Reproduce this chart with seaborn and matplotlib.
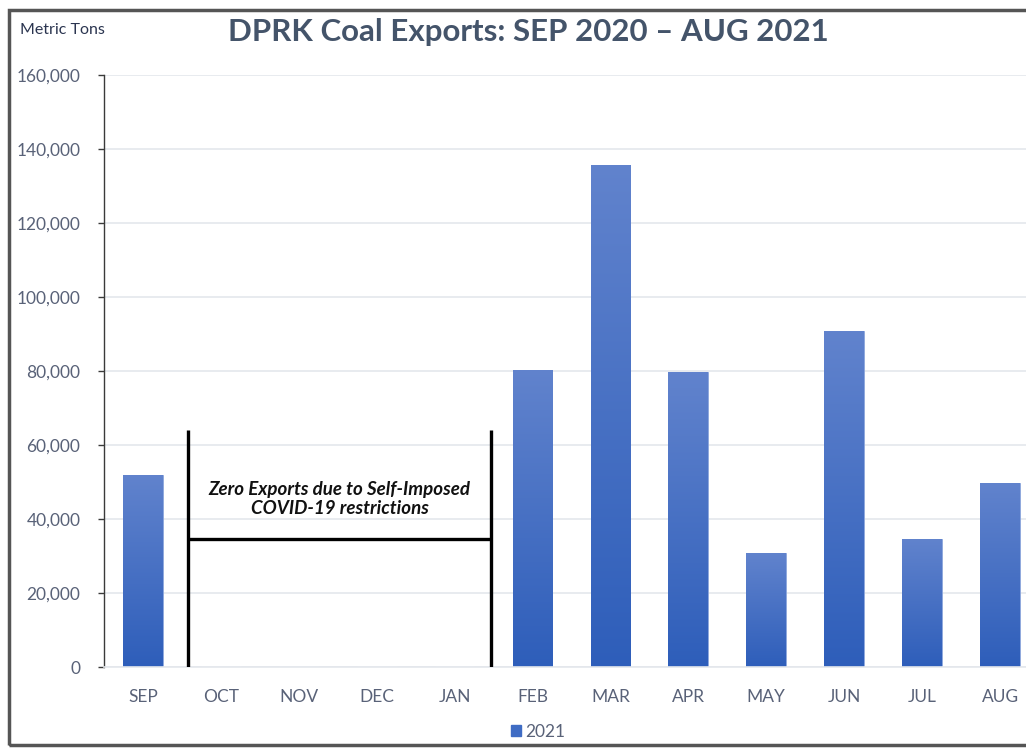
import numpy as np
import pandas as pd
import matplotlib
matplotlib.use("Agg")
import matplotlib.pyplot as plt
from matplotlib.colors import LinearSegmentedColormap
from matplotlib.patches import Rectangle
import seaborn as sns

# Monthly coal exports, metric tons
months = ["SEP", "OCT", "NOV", "DEC", "JAN", "FEB", "MAR", "APR", "MAY", "JUN", "JUL", "AUG"]
exports = [52000, 0, 0, 0, 0, 80300, 135700, 79700, 30800, 90800, 34600, 49700]
y_ticks = [0, 20000, 40000, 60000, 80000, 100000, 120000, 140000, 160000]
series_name = "2021"

# Bracket marking the months with no exports
bracket_left, bracket_right = 0.58, 4.47
bracket_top, bracket_level = 64000, 34600
note = "Zero Exports due to Self-Imposed\nCOVID-19 restrictions"

sns.set_theme(style="white")
plt.rcParams["font.family"] = ["Lato", "DejaVu Sans"]

W, H = 1026, 748
fig = plt.figure(figsize=(W / 100, H / 100), dpi=100)
ax = fig.add_axes([104 / W, 81 / H, (W - 104) / W, 592 / H])

df = pd.DataFrame({"month": months, "tons": exports})
sns.barplot(data=df, x="month", y="tons", color="#3F6CC4", width=0.51,
            saturation=1, ax=ax)

ax.set_xlim(-0.5, (W - 142) / 78)
ax.set_ylim(0, 160000)

# Vertical gradient fill on each bar
grad = LinearSegmentedColormap.from_list("bar", ["#2E5EBA", "#6183CD"])
gimg = np.linspace(0, 1, 256).reshape(-1, 1)
for p in list(ax.patches):
    h = p.get_height()
    if h <= 0:
        continue
    x0 = p.get_x()
    w = p.get_width()
    im = ax.imshow(gimg, cmap=grad, origin="lower", aspect="auto",
                   extent=[x0, x0 + w, 0, h], zorder=p.get_zorder() + 0.1)
    im.set_clip_path(p)
    p.set_edgecolor("#8FA8DD")
    p.set_linewidth(0.6)
ax.set_xlim(-0.5, (W - 142) / 78)
ax.set_ylim(0, 160000)

# Axes styling
ax.set_yticks(y_ticks)
ax.set_yticklabels([f"{v:,}" for v in y_ticks])
ax.set_xlabel("")
ax.set_ylabel("")
ax.grid(axis="y", color="#E4E7EC", linewidth=1.2)
ax.set_axisbelow(True)
for s in ["top", "right"]:
    ax.spines[s].set_visible(False)
ax.spines["left"].set_color("#3A3A3A")
ax.spines["left"].set_linewidth(1.0)
ax.spines["bottom"].set_color("#E4E7EC")
ax.spines["bottom"].set_linewidth(1.2)
ax.tick_params(axis="y", left=True, length=4, width=1.0, color="#3A3A3A",
               pad=13, labelsize=12.5, labelcolor="#596278")
ax.tick_params(axis="x", bottom=False, pad=10, labelsize=12.5,
               labelcolor="#596278")

# Bracket annotation
lw = 2.4
ax.plot([bracket_left, bracket_left], [0, bracket_top], color="black", lw=lw,
        solid_capstyle="butt", zorder=5)
ax.plot([bracket_right, bracket_right], [0, bracket_top], color="black", lw=lw,
        solid_capstyle="butt", zorder=5)
ax.plot([bracket_left, bracket_right], [bracket_level, bracket_level],
        color="black", lw=lw, solid_capstyle="butt", zorder=5)
ax.text((bracket_left + bracket_right) / 2, 45300, note, ha="center",
        va="center", fontsize=13.5, fontweight="bold", fontstyle="italic",
        color="#111111", linespacing=1.15, zorder=6)

# Titles
fig.text(528 / W, 1 - 32 / H, "DPRK Coal Exports: SEP 2020 \u2013 AUG 2021",
         ha="center", va="center", fontsize=22.5, fontweight="bold",
         color="#44546A")
fig.text(20 / W, 1 - 30 / H, "Metric Tons", ha="left", va="center",
         fontsize=11.5, color="#2B3550")

# Legend
handle = Rectangle((0, 0), 1, 1, color="#3F6CC4")
fig.legend([handle], [series_name], loc="center", bbox_to_anchor=(538 / W, 1 - 732 / H),
           frameon=False, fontsize=12.5, handlelength=0.6, handleheight=0.6,
           handletextpad=0.25, labelcolor="#596278")

# Outer frame
fig.patches.append(Rectangle((8.5 / W, 3 / H), 1.2, 1 - 12.5 / H,
                             transform=fig.transFigure, fill=False,
                             edgecolor="#555555", linewidth=2.5, zorder=10))

fig.savefig("out.png", dpi=100)
